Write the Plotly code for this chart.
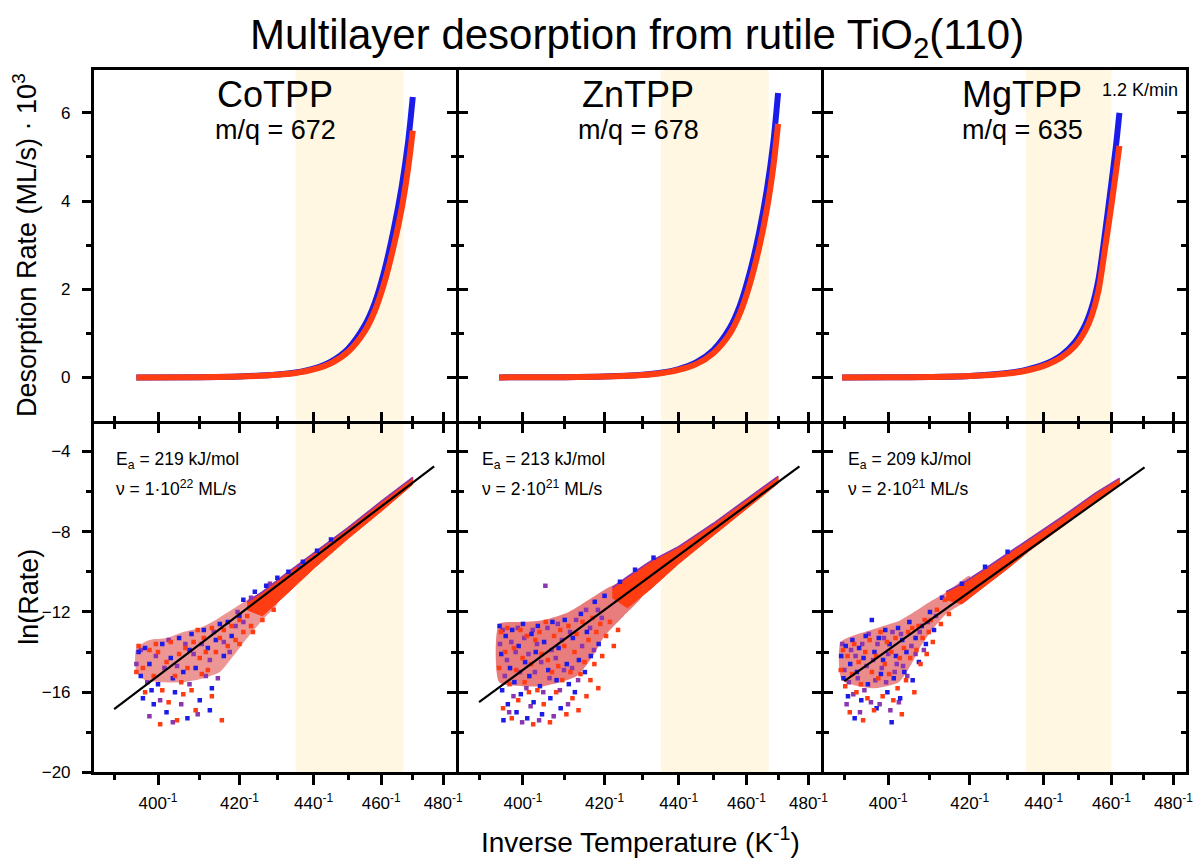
import plotly.graph_objects as go

W, H = 1203, 867
FONT = "Liberation Sans, Arial, sans-serif"

# ---------------- text / categories ----------------
panel_names = ["CoTPP", "ZnTPP", "MgTPP"]
mq_labels = ["m/q = 672", "m/q = 678", "m/q = 635"]
ea_labels = ["E<sub>a</sub> = 219 kJ/mol", "E<sub>a</sub> = 213 kJ/mol", "E<sub>a</sub> = 209 kJ/mol"]
nu_labels = ["ν = 1·10<sup>22</sup> ML/s", "ν = 2·10<sup>21</sup> ML/s", "ν = 2·10<sup>21</sup> ML/s"]
highlight_T = [(435, 467), (435, 467), (435, 460)]

x_tick_T = [400, 420, 440, 460, 480]
x_minor_T = [390, 410, 430, 450, 470]
top_y_ticks = [0, 2, 4, 6]
top_y_minor = [1, 3, 5]
bot_y_ticks = [-4, -8, -12, -16, -20]
bot_y_minor = [-6, -10, -14, -18]

# ---------------- top panels: desorption rate (ML/s x 10^3) vs T (K) ----------------
co_top_T = [395, 410, 420, 430, 435, 440, 445, 450, 455, 458, 461, 464, 466.5, 468.5, 470]
co_top_red = [0, 0.005, 0.02, 0.06, 0.1, 0.18, 0.32, 0.58, 1.05, 1.5, 2.15, 3.0, 3.85, 4.75, 5.6]
co_top_blue = [0, 0.005, 0.02, 0.065, 0.11, 0.2, 0.36, 0.65, 1.18, 1.68, 2.42, 3.38, 4.35, 5.35, 6.36]

zn_top_T = [394.5, 410, 420, 430, 435, 440, 445, 450, 455, 458, 461, 464, 466.5, 468.5, 470]
zn_top_red = [0, 0.005, 0.02, 0.055, 0.095, 0.17, 0.3, 0.55, 1.0, 1.45, 2.1, 2.95, 3.85, 4.8, 5.75]
zn_top_blue = [0, 0.005, 0.02, 0.06, 0.105, 0.19, 0.34, 0.62, 1.13, 1.63, 2.36, 3.3, 4.3, 5.35, 6.45]

mg_top_T = [389.5, 400, 410, 420, 430, 435, 440, 445, 449, 452, 454, 456, 458, 460, 461.5, 462.5]
mg_top_red = [0, 0.003, 0.01, 0.03, 0.09, 0.15, 0.26, 0.45, 0.71, 1.05, 1.4, 1.95, 2.9, 3.9, 4.7, 5.25]
mg_top_blue = [0, 0.003, 0.01, 0.033, 0.1, 0.17, 0.29, 0.5, 0.8, 1.18, 1.58, 2.2, 3.25, 4.4, 5.3, 6.0]

# ---------------- bottom panels: ln(rate) vs T ----------------
# Arrhenius fit lines (end points)
co_fit_T = [390, 477]
co_fit_v = [-16.85, -4.75]
zn_fit_T = [390, 477]
zn_fit_v = [-16.5, -4.75]
mg_fit_T = [390, 470.5]
mg_fit_v = [-15.45, -4.8]

# dense high-T band (upper / lower edges)
co_band_T = [422, 426, 432, 440, 450, 460, 470]
co_band_hi = [-11.5, -11.0, -10.15, -9.1, -7.8, -6.5, -5.3]
co_band_lo = [-11.9, -12.2, -11.2, -9.85, -8.35, -7.0, -5.65]
zn_band_T = [422, 426, 432, 440, 450, 460, 470]
zn_band_hi = [-10.8, -10.25, -9.5, -8.75, -7.6, -6.4, -5.25]
zn_band_lo = [-11.3, -11.8, -10.9, -9.6, -8.2, -6.85, -5.6]
mg_band_T = [414, 418, 424, 430, 436, 445, 455, 462.5]
mg_band_hi = [-11.0, -10.6, -9.85, -9.1, -8.35, -7.3, -6.1, -5.35]
mg_band_lo = [-11.4, -11.6, -10.7, -9.85, -8.95, -7.8, -6.5, -5.65]

# dense low-T core of the scatter cloud (outline)
co_core_T = [395, 398, 402, 406, 410, 414, 418, 422, 426, 430, 430, 426, 422, 418, 415, 411, 406, 401, 397, 395]
co_core_v = [-13.8, -13.4, -13.3, -13.0, -12.8, -12.4, -11.9, -11.4, -11.0, -10.5,
             -11.6, -12.4, -13.3, -14.3, -15.0, -15.3, -15.5, -15.5, -15.4, -15.0]
zn_core_T = [394.5, 400, 405, 411, 416, 420, 425, 430, 430, 425, 420, 417, 413, 405, 400, 394.5]
zn_core_v = [-12.6, -12.5, -12.4, -12.0, -11.4, -10.9, -10.4, -9.9, -11.2, -12.2, -13.2, -14.2, -15.2, -15.7, -15.7, -15.5]
mg_core_T = [389.2, 396, 403, 410, 415, 420, 420, 414, 410.5, 407.5, 405.5, 402.5, 396.5, 389.5]
mg_core_v = [-13.5, -12.9, -12.4, -11.5, -10.9, -10.2, -11.3, -12.1, -12.9, -13.8, -14.6, -15.5, -15.8, -15.4]

# scattered individual points (T, ln rate) for the three colour groups
co_blue_T = [395.5, 396, 396.5, 397, 398, 399, 400, 401, 402, 403, 404, 405, 406, 407, 408, 409, 410, 411, 412, 413,
             414, 415, 416, 417, 418, 420, 398.5, 403.5, 407.5, 412.5, 421, 424, 427, 430, 433, 437, 441, 445]
co_blue_v = [-14.0, -15.2, -16.3, -13.8, -14.6, -16.6, -15.6, -13.6, -17.0, -14.3, -16.0, -13.3, -15.0, -17.3, -13.1,
             -14.8, -16.4, -12.9, -13.8, -15.8, -13.4, -12.6, -14.2, -12.5, -13.2, -12.2, -15.9, -15.3, -13.9, -16.9,
             -11.4, -11.0, -10.7, -10.3, -10.0, -9.5, -8.95, -8.4]
co_purple_T = [395, 396, 397.5, 398, 399.5, 400.5, 401.5, 402.5, 403.5, 404.5, 405.5, 406.5, 407.5, 408.5, 409.5,
               410.5, 411.5, 412.5, 413.5, 414.5, 416, 417.5, 419, 421, 419.5, 423, 428, 436]
co_purple_v = [-14.6, -13.9, -15.5, -17.2, -14.2, -16.4, -14.8, -13.4, -17.5, -14.7, -16.6, -13.6, -15.6, -14.1, -17.1,
               -13.6, -15.2, -14.4, -13.0, -15.3, -13.5, -14.0, -12.7, -12.5, -12.0, -11.3, -10.6, -9.75]
co_red_T = [395, 395.5, 396.5, 397, 398, 399, 400, 400.5, 401, 402, 403, 404, 404.5, 405, 406, 406.5, 407, 408, 408.5,
            409, 410, 410.5, 411, 412, 413, 413, 414, 415, 415.5, 416, 417, 418, 419, 420, 421, 422, 423, 405.5, 402.5,
            399.5, 411.5, 409.5, 420, 423.5, 426, 429]
co_red_v = [-15.0, -13.7, -14.8, -16.0, -13.9, -15.2, -14.0, -17.6, -15.9, -14.5, -13.5, -15.2, -17.4, -14.1, -16.1,
            -13.8, -14.8, -15.9, -13.5, -16.9, -14.3, -15.1, -13.3, -14.9, -12.8, -16.2, -14.0, -13.3, -17.4, -12.9,
            -13.7, -12.7, -13.4, -12.4, -13.0, -12.2, -12.7, -15.5, -16.5, -13.6, -14.0, -12.9, -13.6, -13.0, -12.4,
            -11.9]

zn_blue_T = [394.6, 395, 395.2, 395.5, 396, 396.5, 397, 397.5, 398, 398.5, 399, 399.5, 400, 400.5, 401, 401.5, 402,
             402.5, 403, 403.5, 404, 404.5, 405, 406, 406.5, 407, 408, 408.5, 409, 410, 410.5, 411, 412, 412.5, 413.5,
             414, 415, 415.5, 416.5, 417.5, 418.5, 420, 424, 428, 433]
zn_blue_v = [-12.7, -14.1, -15.9, -17.4, -13.2, -16.6, -14.8, -12.9, -15.5, -17.0, -13.7, -16.1, -12.6, -14.5, -17.3,
             -15.2, -13.1, -16.5, -14.0, -12.7, -15.7, -17.1, -13.5, -14.9, -16.3, -12.5, -15.4, -13.8, -16.8, -12.4,
             -14.6, -15.6, -13.3, -16.0, -14.4, -12.1, -15.0, -13.0, -14.2, -11.5, -13.6, -11.2, -10.5, -9.9, -9.3]
zn_purple_T = [394.7, 395.3, 395.8, 396.3, 396.8, 397.3, 397.8, 398.3, 398.8, 399.3, 399.8, 400.3, 400.8, 401.3, 401.8,
               402.3, 402.8, 403.3, 403.8, 404.3, 404.8, 405.3, 405.8, 406.3, 406.8, 407.3, 407.8, 408.3, 408.8, 409.3,
               409.8, 410.8, 411.3, 411.8, 412.8, 413.3, 414.3, 415.3, 416.3, 417.3, 418.3, 419.3]
zn_purple_v = [-13.6, -12.9, -15.2, -14.4, -17.0, -13.5, -16.2, -14.0, -12.8, -15.0, -17.5, -13.3, -15.8, -14.1, -16.7,
               -12.9, -15.0, -13.6, -17.4, -14.5, -16.0, -10.7, -12.8, -15.3, -13.9, -17.2, -14.3, -12.6, -15.9, -13.4,
               -14.9, -16.6, -13.0, -14.8, -12.4, -15.4, -13.7, -11.9, -12.8, -13.9, -11.9, -12.3]
zn_red_T = [394.5, 394.9, 395.4, 395.9, 396.4, 396.9, 397.4, 397.9, 398.4, 398.9, 399.4, 399.9, 400.4, 400.9, 401.4,
            401.9, 402.4, 402.9, 403.4, 403.9, 404.4, 404.9, 405.4, 405.9, 406.4, 406.9, 407.4, 407.9, 408.4, 408.9,
            409.4, 409.9, 410.4, 410.9, 411.4, 411.9, 412.4, 412.9, 413.4, 413.9, 414.4, 414.9, 415.4, 415.9, 416.4,
            416.9, 417.4, 417.9, 418.4, 418.9, 419.4, 420.4, 421.4, 422.4, 423.5]
zn_red_v = [-14.8, -13.0, -16.8, -14.0, -12.8, -15.6, -17.3, -13.8, -14.9, -16.4, -12.9, -14.3, -15.5, -13.2, -16.0,
            -14.6, -17.6, -13.4, -15.9, -13.0, -14.1, -16.6, -12.5, -14.4, -17.5, -15.0, -13.2, -16.0, -14.7, -12.9,
            -15.4, -13.7, -17.1, -12.7, -15.0, -16.3, -14.0, -13.1, -16.9, -15.1, -12.5, -14.5, -16.2, -13.4, -15.4,
            -12.3, -14.6, -13.0, -15.8, -12.6, -14.2, -13.2, -12.5, -13.7, -12.9]

mg_blue_T = [389.3, 389.8, 390.3, 390.8, 391.3, 391.8, 392.3, 392.8, 393.3, 393.8, 394.3, 394.8, 395.3, 396.2, 396.8,
             397.3, 397.8, 398.3, 398.8, 399.3, 399.8, 400.3, 400.8, 401.3, 401.8, 402.3, 402.8, 403.3, 403.8, 404.3,
             405, 405.8, 406.5, 407.3, 408, 409, 410, 411, 413, 418, 424, 430]
mg_blue_v = [-14.2, -15.3, -13.7, -16.2, -14.6, -13.4, -17.3, -15.0, -13.8, -16.4, -14.3, -13.2, -15.6, -12.4, -14.0,
             -16.8, -13.3, -15.1, -14.4, -12.9, -16.0, -13.6, -17.5, -15.3, -14.2, -12.8, -16.3, -13.4, -15.0, -14.0,
             -12.5, -15.4, -13.3, -14.5, -12.7, -13.6, -12.0, -12.9, -11.3, -10.6, -9.75, -9.0]
mg_purple_T = [389.5, 390, 390.5, 391, 391.5, 392, 392.5, 393, 393.5, 394, 394.5, 395, 395.5, 396, 396.5, 397, 397.5,
               398, 398.5, 399, 399.5, 400, 400.5, 401, 401.5, 402, 402.5, 403, 403.5, 404.5, 405.5, 406.5, 407.5,
               408.5, 409.5, 411.5]
mg_purple_v = [-13.6, -14.9, -16.6, -15.5, -13.9, -16.1, -14.2, -15.3, -17.0, -13.6, -15.9, -14.7, -13.1, -16.5, -14.4,
               -15.4, -13.6, -16.6, -14.8, -13.3, -15.5, -14.1, -16.9, -13.0, -15.0, -14.6, -16.5, -13.1, -14.7, -15.2,
               -13.7, -14.1, -13.0, -13.9, -12.5, -12.2]
mg_red_T = [389.2, 389.7, 390.2, 390.7, 391.2, 391.7, 392.2, 392.7, 393.2, 393.7, 394.2, 394.7, 395.2, 395.7, 396.2,
            396.7, 397.2, 397.7, 398.2, 398.7, 399.2, 399.7, 400.2, 400.7, 401.2, 401.7, 402.2, 402.7, 403.2, 403.7,
            404.2, 404.7, 405.2, 405.7, 406.2, 406.7, 407.2, 407.7, 408.2, 408.7, 409.2, 409.7, 410.2, 410.7, 411.7,
            412.7, 413.7, 414.7, 416]
mg_red_v = [-14.9, -13.9, -15.7, -14.2, -17.0, -15.1, -13.6, -16.0, -14.5, -15.6, -17.4, -14.0, -16.3, -13.4, -15.0,
            -16.9, -14.2, -15.3, -13.0, -16.2, -14.6, -13.5, -15.1, -14.0, -16.4, -13.3, -15.8, -14.3, -17.1, -13.8,
            -15.4, -13.0, -14.3, -12.8, -16.0, -13.9, -12.7, -14.6, -13.3, -12.4, -14.1, -13.0, -12.4, -13.5, -11.9,
            -12.6, -11.4, -12.1, -11.2]

BLUE = "#1c1ce8"
PURPLE = "#8a36b0"
RED = "#ff3c12"
HILITE = "#fff7e1"
CORE_FILL = ["rgba(222,64,64,0.55)", "rgba(222,64,64,0.68)", "rgba(222,64,64,0.6)"]

top_data = [(co_top_T, co_top_blue, co_top_red), (zn_top_T, zn_top_blue, zn_top_red), (mg_top_T, mg_top_blue, mg_top_red)]
fit_data = [(co_fit_T, co_fit_v), (zn_fit_T, zn_fit_v), (mg_fit_T, mg_fit_v)]
band_data = [(co_band_T, co_band_hi, co_band_lo), (zn_band_T, zn_band_hi, zn_band_lo), (mg_band_T, mg_band_hi, mg_band_lo)]
core_data = [(co_core_T, co_core_v), (zn_core_T, zn_core_v), (mg_core_T, mg_core_v)]
pts_data = [
    [(co_purple_T, co_purple_v, PURPLE), (co_blue_T, co_blue_v, BLUE), (co_red_T, co_red_v, RED)],
    [(zn_purple_T, zn_purple_v, PURPLE), (zn_blue_T, zn_blue_v, BLUE), (zn_red_T, zn_red_v, RED)],
    [(mg_purple_T, mg_purple_v, PURPLE), (mg_blue_T, mg_blue_v, BLUE), (mg_red_T, mg_red_v, RED)],
]


def inv(ts):
    return [1.0 / t for t in ts]


def fx(p):
    return p / W


def fy(p):
    return 1 - p / H


def ax_id(letter, k):
    return letter if k == 1 else f"{letter}{k}"


col_px = [(94.5, 458.5), (461.5, 826.0), (829.0, 1193.0)]
row_px = [(70.5, 425.5), (428.5, 781.5)]
x_range = [1 / 385.56, 1 / 484.32]
top_range = [-0.98, 6.98]
bot_range = [-20.0, -2.62]

fig = go.Figure()

for c in range(3):
    xa_t, ya_t = ax_id("x", c + 1), ax_id("y", c + 1)
    xa_b, ya_b = ax_id("x", c + 4), ax_id("y", c + 4)
    T, blue, red = top_data[c]
    fig.add_trace(go.Scatter(x=inv(T), y=blue, mode="lines", line=dict(color=BLUE, width=6, shape="spline", smoothing=0.8),
                             xaxis=xa_t, yaxis=ya_t, showlegend=False, hoverinfo="skip"))
    fig.add_trace(go.Scatter(x=inv(T), y=red, mode="lines", line=dict(color=RED, width=6, shape="spline", smoothing=0.8),
                             xaxis=xa_t, yaxis=ya_t, showlegend=False, hoverinfo="skip"))
    cT, cv = core_data[c]
    fig.add_trace(go.Scatter(x=inv(cT) + [1 / cT[0]], y=cv + [cv[0]], mode="lines", fill="toself",
                             fillcolor=CORE_FILL[c], line=dict(width=0, shape="spline", smoothing=0.6),
                             xaxis=xa_b, yaxis=ya_b, showlegend=False, hoverinfo="skip"))
    bT, bhi, blo = band_data[c]
    fig.add_trace(go.Scatter(x=inv(bT) + inv(bT[::-1]), y=bhi + blo[::-1], mode="lines", fill="toself",
                             fillcolor=RED, line=dict(width=1, color=RED),
                             xaxis=xa_b, yaxis=ya_b, showlegend=False, hoverinfo="skip"))
    fig.add_trace(go.Scatter(x=inv(bT), y=bhi, mode="lines", line=dict(width=1.6, color=PURPLE),
                             xaxis=xa_b, yaxis=ya_b, showlegend=False, hoverinfo="skip"))
    for pT, pv, col in pts_data[c]:
        fig.add_trace(go.Scatter(x=inv(pT), y=pv, mode="markers",
                                 marker=dict(symbol="square", size=4.5, color=col, line=dict(width=0)),
                                 xaxis=xa_b, yaxis=ya_b, showlegend=False, hoverinfo="skip"))
    fT, fv = fit_data[c]
    fig.add_trace(go.Scatter(x=inv(fT), y=fv, mode="lines", line=dict(color="black", width=2.2),
                             xaxis=xa_b, yaxis=ya_b, showlegend=False, hoverinfo="skip"))

# dummy traces so the overlay (mirror-tick) axes are drawn
for xa, ya in [("x7", "y4"), ("x8", "y5"), ("x9", "y6"), ("x", "y7"), ("x4", "y8")]:
    fig.add_trace(go.Scatter(x=[None], y=[None], mode="markers", xaxis=xa, yaxis=ya,
                             showlegend=False, hoverinfo="skip"))

tickfont = dict(family=FONT, size=17, color="black")
base = dict(showline=True, linecolor="black", linewidth=3, tickcolor="black", tickwidth=2.5,
            showgrid=False, zeroline=False, tickfont=tickfont)

xmaj = inv(x_tick_T)
xmin = inv(x_minor_T)
xtext = [f"{t}<sup>-1</sup>" for t in x_tick_T]

layout = dict(width=W, height=H, margin=dict(l=0, r=0, t=0, b=0), paper_bgcolor="white",
              plot_bgcolor="rgba(0,0,0,0)", showlegend=False)

for c in range(3):
    dom_x = [fx(col_px[c][0]), fx(col_px[c][1])]
    dom_top = [fy(row_px[0][1]), fy(row_px[0][0])]
    dom_bot = [fy(row_px[1][1]), fy(row_px[1][0])]
    layout[f"xaxis{c + 1}"] = dict(base, domain=dom_x, range=x_range, anchor=ax_id("y", c + 1),
                                   tickmode="array", tickvals=xmaj, ticks="inside", ticklen=9,
                                   mirror=True, showticklabels=False,
                                   minor=dict(tickmode="array", tickvals=xmin, ticks="inside", ticklen=5,
                                              tickwidth=2.5, tickcolor="black"))
    layout[f"xaxis{c + 4}"] = dict(base, domain=dom_x, range=x_range, anchor=ax_id("y", c + 4),
                                   tickmode="array", tickvals=xmaj, ticktext=xtext, ticks="outside", ticklen=10,
                                   mirror=True, showticklabels=True, ticklabelstandoff=3,
                                   minor=dict(tickmode="array", tickvals=xmin, ticks="outside", ticklen=5,
                                              tickwidth=2.5, tickcolor="black"))
    layout[f"xaxis{c + 7}"] = dict(base, domain=dom_x, range=x_range, anchor=ax_id("y", c + 4),
                                   overlaying=ax_id("x", c + 4), side="top", showline=False,
                                   tickmode="array", tickvals=xmaj, ticks="inside", ticklen=9,
                                   showticklabels=False,
                                   minor=dict(tickmode="array", tickvals=xmin, ticks="inside", ticklen=5,
                                              tickwidth=2.5, tickcolor="black"))
    if c == 0:
        yopt = dict(ticks="outside", mirror=True, showticklabels=True, ticklabelstandoff=8)
    else:
        yopt = dict(ticks="inside", mirror="ticks", showticklabels=False)
    mtick = "outside" if c == 0 else "inside"
    layout[f"yaxis{c + 1}"] = dict(base, domain=dom_top, range=top_range, anchor=ax_id("x", c + 1),
                                   tickmode="array", tickvals=top_y_ticks, ticklen=9,
                                   minor=dict(tickmode="array", tickvals=top_y_minor, ticks=mtick, ticklen=5,
                                              tickwidth=2.5, tickcolor="black"), **yopt)
    layout[f"yaxis{c + 4}"] = dict(base, domain=dom_bot, range=bot_range, anchor=ax_id("x", c + 4),
                                   tickmode="array", tickvals=bot_y_ticks, ticklen=9,
                                   minor=dict(tickmode="array", tickvals=bot_y_minor, ticks=mtick, ticklen=5,
                                              tickwidth=2.5, tickcolor="black"), **yopt)

for k, (ov, rng, tv, mv, dom_row) in enumerate([("y", top_range, top_y_ticks, top_y_minor, row_px[0]),
                                                 ("y4", bot_range, bot_y_ticks, bot_y_minor, row_px[1])]):
    layout[f"yaxis{7 + k}"] = dict(base, domain=[fy(dom_row[1]), fy(dom_row[0])], range=rng,
                                   anchor="x" if k == 0 else "x4", overlaying=ov, side="right",
                                   showline=False, tickmode="array", tickvals=tv, ticks="inside", ticklen=9,
                                   showticklabels=False,
                                   minor=dict(tickmode="array", tickvals=mv, ticks="inside", ticklen=5,
                                              tickwidth=2.5, tickcolor="black"))

shapes = []
for c in range(3):
    t0, t1 = highlight_T[c]
    for r in (0, 1):
        k = c + 1 + 3 * r
        shapes.append(dict(type="rect", xref=ax_id("x", k), yref=ax_id("y", k) + " domain",
                           x0=1 / t0, x1=1 / t1, y0=0, y1=1,
                           fillcolor=HILITE, line=dict(width=0), layer="below"))
layout["shapes"] = shapes

ann = []


def add_text(text, x, y, size, xanchor="center", yanchor="middle", angle=0):
    ann.append(dict(text=text, x=fx(x), y=fy(y), xref="paper", yref="paper", showarrow=False,
                    xanchor=xanchor, yanchor=yanchor, textangle=angle,
                    font=dict(family=FONT, size=size, color="black")))


add_text("Multilayer desorption from rutile TiO<sub>2</sub>(110)", 641, 38, 42)
name_x = [277, 642, 1028]
ea_x = [115, 483, 851]
for c in range(3):
    add_text(panel_names[c], name_x[c], 96, 36)
    add_text(mq_labels[c], name_x[c], 132, 27)
    add_text(ea_labels[c], ea_x[c], 466, 17.5, xanchor="left")
    add_text(nu_labels[c], ea_x[c], 494, 17.5, xanchor="left")
add_text("1.2 K/min", 1187, 91, 18, xanchor="right")
add_text("Desorption Rate (ML/s) · 10<sup>3</sup>", 25, 248, 27, angle=-90)
add_text("ln(Rate)", 29, 604, 27, angle=-90)
add_text("Inverse Temperature (K<sup>-1</sup>)", 644, 850, 28)
layout["annotations"] = ann

fig.update_layout(**layout)
fig.write_html("out.html")
